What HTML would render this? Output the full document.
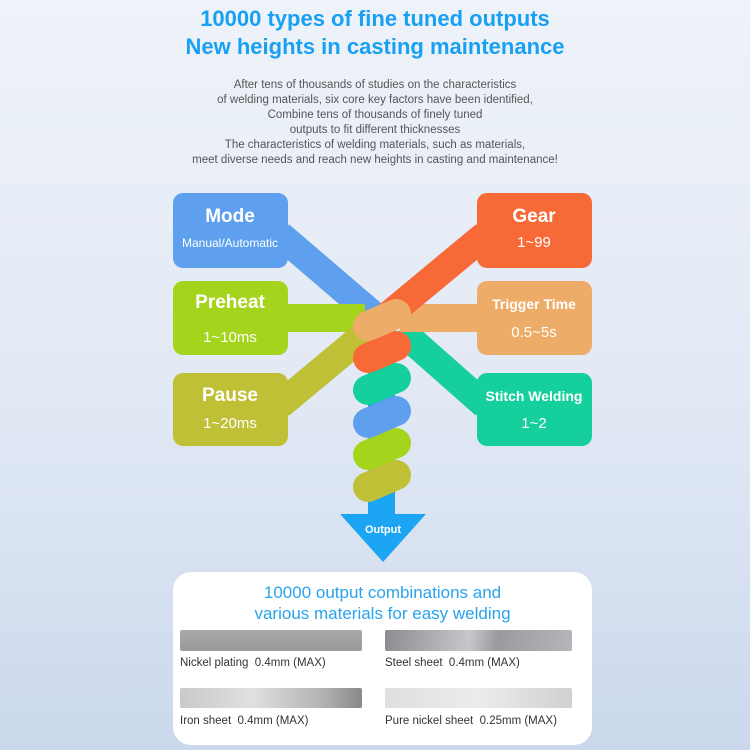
<!DOCTYPE html><html><head><style>
body{margin:0;width:750px;height:750px;overflow:hidden;font-family:"Liberation Sans",sans-serif;background:linear-gradient(180deg,#eef2f9 0%,#e3eaf5 50%,#cbd8ec 100%);position:relative}
.t{position:absolute;left:0;width:750px;text-align:center;color:#18a0f2;font-weight:bold;font-size:22px;line-height:28px}
.p{position:absolute;left:0;width:750px;top:78px;text-align:center;color:#555;font-size:11.5px;line-height:15px}
.card{position:absolute;left:173px;top:572px;width:419px;height:173px;background:#fff;border-radius:18px}
.ct{position:absolute;left:0;top:10px;width:419px;text-align:center;color:#29a3ec;font-size:17px;line-height:21px}
.s{position:absolute;height:21px;border-radius:2px}
.l{position:absolute;font-size:11.5px;color:#333}
</style></head><body>
<div class="t" style="top:5px">10000 types of fine tuned outputs<br>New heights in casting maintenance</div>
<div class="p">After tens of thousands of studies on the characteristics<br>of welding materials, six core key factors have been identified,<br>Combine tens of thousands of finely tuned<br>outputs to fit different thicknesses<br>The characteristics of welding materials, such as materials,<br>meet diverse needs and reach new heights in casting and maintenance!</div>
<svg width="750" height="750" style="position:absolute;left:0;top:0" font-family="Liberation Sans,sans-serif">
<rect x="368" y="330" width="27" height="190" fill="#1ba5f3"/>
<polygon points="340,514 426,514 383,562" fill="#1ba5f3"/>
<text x="383" y="533" fill="#fff" font-size="11" font-weight="bold" text-anchor="middle">Output</text>
<g stroke-width="28" stroke-linecap="butt">
<line x1="280" y1="235" x2="385" y2="325" stroke="#5ea0ee"/>
<line x1="280" y1="318" x2="365" y2="318" stroke="#a4d41c"/>
<line x1="280" y1="405" x2="370" y2="330" stroke="#bfc035"/>
<line x1="485" y1="405" x2="400" y2="330" stroke="#15d09c"/>
<line x1="485" y1="318" x2="400" y2="318" stroke="#edac68"/>
<line x1="485" y1="235" x2="385" y2="318" stroke="#f76a38"/>
</g>
<g stroke-width="30" stroke-linecap="round">
<line x1="368" y1="487" x2="396" y2="475" stroke="#bfc035"/>
<line x1="368" y1="455" x2="396" y2="443" stroke="#a4d41c"/>
<line x1="368" y1="423" x2="396" y2="411" stroke="#5ea0ee"/>
<line x1="368" y1="390" x2="396" y2="378" stroke="#15d09c"/>
<line x1="368" y1="358" x2="396" y2="346" stroke="#f76a38"/>
<line x1="368" y1="326" x2="396" y2="314" stroke="#edac68"/>
</g>
<g font-weight="bold" fill="#fff" text-anchor="middle">
<rect x="173" y="193" width="115" height="75" rx="10" fill="#5ea0ee"/>
<text x="230" y="222" font-size="19">Mode</text><text x="230" y="247" font-size="12" font-weight="normal">Manual/Automatic</text>
<rect x="173" y="281" width="115" height="74" rx="10" fill="#a4d41c"/>
<text x="230" y="308" font-size="19">Preheat</text><text x="230" y="342" font-size="15" font-weight="normal">1~10ms</text>
<rect x="173" y="373" width="115" height="73" rx="10" fill="#bfc035"/>
<text x="230" y="401" font-size="19">Pause</text><text x="230" y="428" font-size="15" font-weight="normal">1~20ms</text>
<rect x="477" y="193" width="115" height="75" rx="10" fill="#f76a38"/>
<text x="534" y="222" font-size="19">Gear</text><text x="534" y="247" font-size="15" font-weight="normal">1~99</text>
<rect x="477" y="281" width="115" height="74" rx="10" fill="#edac68"/>
<text x="534" y="309" font-size="14">Trigger Time</text><text x="534" y="337" font-size="15" font-weight="normal">0.5~5s</text>
<rect x="477" y="373" width="115" height="73" rx="10" fill="#15d09c"/>
<text x="534" y="401" font-size="14">Stitch Welding</text><text x="534" y="428" font-size="15" font-weight="normal">1~2</text>
</g>
</svg>
<div class="card">
<div class="ct">10000 output combinations and<br>various materials for easy welding</div>
<div class="s" style="left:7px;top:58px;width:182px;background:linear-gradient(180deg,#a9a9a9,#9a9a9a)"></div>
<div class="s" style="left:212px;top:58px;width:187px;background:linear-gradient(100deg,#8a8c90,#c6c7ca 45%,#9a9b9e 60%,#b5b6b9)"></div>
<div class="s" style="left:7px;top:116px;width:182px;height:20px;background:linear-gradient(90deg,#c9c9c9,#e0e0e0 40%,#b0b0b0 80%,#888)"></div>
<div class="s" style="left:212px;top:116px;width:187px;height:20px;background:linear-gradient(90deg,#dedfe1,#ececee 50%,#cfd0d2)"></div>
<div class="l" style="left:7px;top:85px">Nickel plating&nbsp; 0.4mm (MAX)</div>
<div class="l" style="left:212px;top:85px">Steel sheet&nbsp; 0.4mm (MAX)</div>
<div class="l" style="left:7px;top:143px">Iron sheet&nbsp; 0.4mm (MAX)</div>
<div class="l" style="left:212px;top:143px">Pure nickel sheet&nbsp; 0.25mm (MAX)</div>
</div>
</body></html>
